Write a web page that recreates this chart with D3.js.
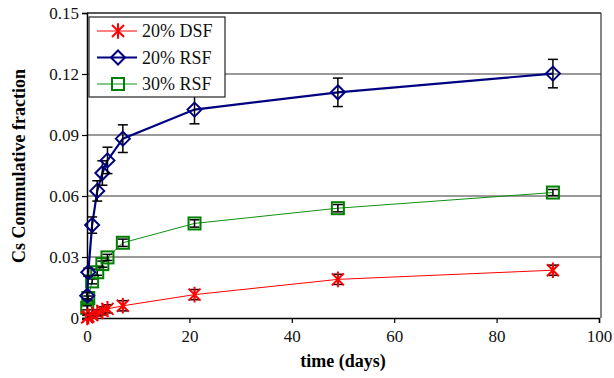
<html>
<head>
  <meta charset="UTF-8">
  <script src="https://d3js.org/d3.v7.min.js"></script>
  <style>
    body { margin: 0; background: white; }
  </style>
</head>
<body>
<svg></svg>
<script>
  // Data
  const days = [0.04, 0.25, 1, 2, 3, 4, 7, 21, 49, 91];
  const dsf20 = [0.0003, 0.0008, 0.0015, 0.0025, 0.0035, 0.0045, 0.006, 0.0115, 0.019, 0.0235];
  const dsf20Err = [0.001, 0.001, 0.001, 0.0015, 0.002, 0.002, 0.0025, 0.0025, 0.0025, 0.0025];
  const rsf20 = [0.011, 0.0225, 0.0457, 0.0625, 0.0713, 0.0775, 0.0882, 0.1025, 0.111, 0.1202];
  const rsf20Err = [0.0015, 0.002, 0.004, 0.005, 0.006, 0.0065, 0.0068, 0.007, 0.007, 0.007];
  const rsf30 = [0.005, 0.0098, 0.018, 0.0225, 0.0265, 0.0298, 0.037, 0.0465, 0.054, 0.0617];
  const rsf30Err = [0.001, 0.001, 0.0012, 0.0015, 0.0015, 0.0015, 0.0018, 0.0018, 0.0018, 0.0015];
  const yTicks = [0, 0.03, 0.06, 0.09, 0.12, 0.15];
  const xTicks = [0, 20, 40, 60, 80, 100];
  const seriesNames = ["20% DSF", "20% RSF", "30% RSF"];

  const FONT = "'Liberation Serif', 'Times New Roman', Times, serif";

  const width = 614;
  const height = 378;
  const margins = { top: 13, right: 13, bottom: 60, left: 87 };
  const chartWidth = width - margins.left - margins.right;
  const chartHeight = height - margins.top - margins.bottom;

  let svg = d3.select("svg").attr("width", width).attr("height", height)
    .attr("font-family", FONT);
  let chartArea = svg.append("g").attr("transform", `translate(${margins.left}, ${margins.top})`);

  const xScale = d3.scaleLinear().domain([0, 100]).range([0, 512]);
  const yScale = d3.scaleLinear().domain([0, 0.15]).range([chartHeight, 0]);

  // Grid lines
  chartArea.selectAll(".grid").data(yTicks.slice(1, 5)).join("line")
    .attr("x1", 0).attr("x2", chartWidth)
    .attr("y1", d => yScale(d)).attr("y2", d => yScale(d))
    .style("stroke", "#777").style("stroke-width", 1.3);

  // Plot border
  chartArea.append("line").attr("x1", 0).attr("x2", chartWidth).attr("y1", 0).attr("y2", 0)
    .style("stroke", "#222").style("stroke-width", 1.3);
  chartArea.append("line").attr("x1", chartWidth).attr("x2", chartWidth).attr("y1", 0).attr("y2", chartHeight)
    .style("stroke", "#444").style("stroke-width", 1.3);

  // Axes
  let leftAxis = d3.axisLeft(yScale).tickValues(yTicks).tickSize(5).tickPadding(3)
    .tickFormat(d => d === 0 ? "0" : d3.format(".2f")(d));
  let yAxisG = chartArea.append("g").call(leftAxis);

  let bottomAxis = d3.axisBottom(xScale).tickValues(xTicks).tickSize(5).tickPadding(7);
  let xAxisG = chartArea.append("g").attr("transform", `translate(0, ${chartHeight})`).call(bottomAxis);

  [yAxisG, xAxisG].forEach(g => {
    g.attr("font-family", FONT).attr("font-size", 17);
    g.select(".domain").style("stroke", "black").style("stroke-width", 1.5);
    g.selectAll(".tick line").style("stroke", "black").style("stroke-width", 1.2);
    g.selectAll("text").style("fill", "#111");
  });

  svg.append("text")
    .attr("x", margins.left + xScale(50)).attr("y", 367)
    .attr("text-anchor", "middle")
    .attr("font-weight", "bold").attr("font-size", 18)
    .text("time (days)");

  svg.append("text")
    .attr("transform", `translate(25, 166) rotate(-90)`)
    .attr("text-anchor", "middle")
    .attr("font-weight", "bold").attr("font-size", 18)
    .text("Cs Commulative fraction");

  // Marker drawers
  function star(g, x, y, s) {
    g.append("path")
      .attr("d", `M${x - s},${y - s}L${x + s},${y + s}M${x - s},${y + s}L${x + s},${y - s}M${x},${y - s * 1.3}L${x},${y + s * 1.3}`)
      .style("stroke", "red").style("stroke-width", 2).style("fill", "none");
  }
  function diamond(g, x, y, s) {
    g.append("path")
      .attr("d", `M${x},${y - s}L${x + s},${y}L${x},${y + s}L${x - s},${y}Z`)
      .style("stroke", "#000080").style("stroke-width", 2).style("fill", "none");
  }
  function square(g, x, y, s) {
    g.append("rect")
      .attr("x", x - s).attr("y", y - s).attr("width", 2 * s).attr("height", 2 * s)
      .style("stroke", "#008000").style("stroke-width", 2).style("fill", "none");
  }

  const series = [
    { name: seriesNames[0], values: dsf20, err: dsf20Err, color: "red", lw: 1, marker: star, size: 6 },
    { name: seriesNames[1], values: rsf20, err: rsf20Err, color: "#000080", lw: 2.2, marker: diamond, size: 7 },
    { name: seriesNames[2], values: rsf30, err: rsf30Err, color: "#109010", lw: 1, marker: square, size: 6 }
  ];

  const line = d3.line().x(d => xScale(d[0])).y(d => yScale(d[1]));

  // draw 30% RSF first, then 20% RSF, then DSF on top
  [series[2], series[1], series[0]].forEach(s => {
    const pts = days.map((t, i) => [t, s.values[i]]);
    chartArea.append("path").datum(pts).attr("d", line)
      .style("fill", "none").style("stroke", s.color).style("stroke-width", s.lw);
    let g = chartArea.append("g");
    pts.forEach((p, i) => {
      const x = xScale(p[0]);
      const y1 = yScale(p[1] + s.err[i]);
      const y2 = yScale(p[1] - s.err[i]);
      g.append("line").attr("x1", x).attr("x2", x).attr("y1", y1).attr("y2", y2)
        .style("stroke", "black").style("stroke-width", 1.5);
      [y1, y2].forEach(yy => g.append("line").attr("x1", x - 5).attr("x2", x + 5).attr("y1", yy).attr("y2", yy)
        .style("stroke", "black").style("stroke-width", 1.5));
      s.marker(g, x, yScale(p[1]), s.size);
    });
  });

  // Legend
  let legend = svg.append("g").attr("transform", "translate(89, 17)");
  legend.append("rect").attr("width", 136).attr("height", 80)
    .style("fill", "white").style("stroke", "#222").style("stroke-width", 1.2);
  series.forEach((s, i) => {
    const y = 14 + i * 26.5;
    legend.append("line").attr("x1", 8).attr("x2", 48).attr("y1", y).attr("y2", y)
      .style("stroke", s.color).style("stroke-width", s.lw);
    s.marker(legend, 29, y, s.size);
    legend.append("text").attr("x", 53).attr("y", y + 6)
      .attr("font-size", 18).style("fill", "#111").text(s.name);
  });
</script>
</body>
</html>
